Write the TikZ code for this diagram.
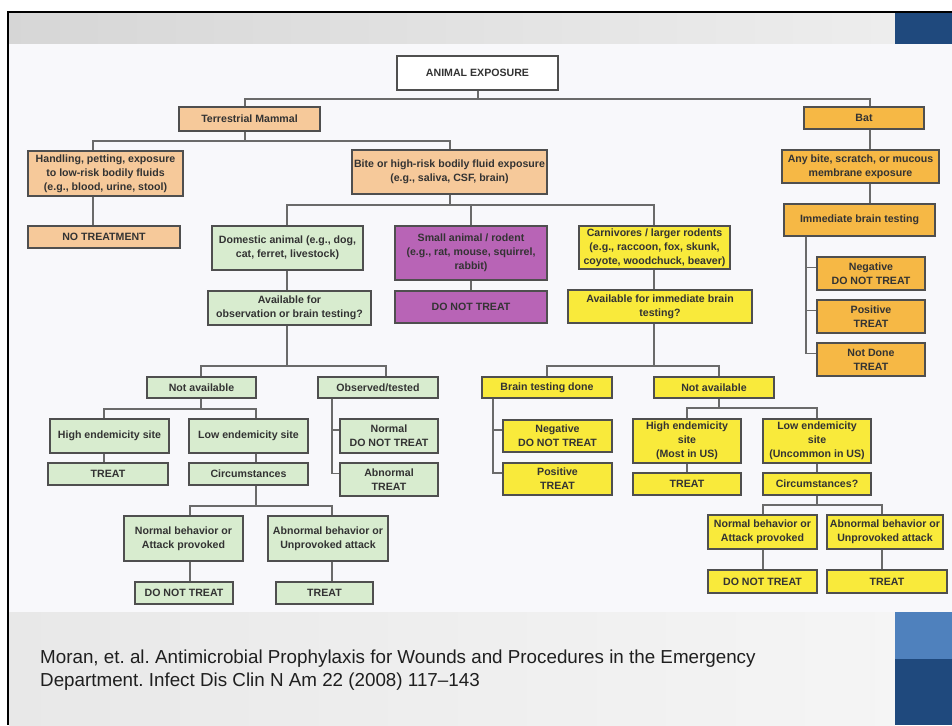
\documentclass[tikz,border=0pt]{standalone}
\usepackage{fontspec}
\setmainfont{Liberation Sans}
\frenchspacing
\begin{document}
\begin{tikzpicture}[x=1pt,y=-1pt]
\definecolor{cPeach}{HTML}{F6C99A}
\definecolor{cOrange}{HTML}{F6B845}
\definecolor{cGreen}{HTML}{D8ECCF}
\definecolor{cPurple}{HTML}{B864B6}
\definecolor{cYellow}{HTML}{F9EA3B}
\definecolor{boxLine}{HTML}{4F4F4F}
\definecolor{linkLine}{HTML}{6A6A6A}
\definecolor{txt}{HTML}{333333}
\definecolor{diagBg}{HTML}{F8F8FB}
\definecolor{blueDark}{HTML}{1F497D}
\definecolor{blueLight}{HTML}{4F81BD}
\tikzset{
  box/.style={draw=boxLine, line width=1.4pt, inner sep=0pt, align=center,
    text=txt, font=\bfseries\fontsize{10.6}{13.9}\selectfont},
  peach/.style={box, fill=cPeach},
  orange/.style={box, fill=cOrange},
  green/.style={box, fill=cGreen},
  purple/.style={box, fill=cPurple},
  yellow/.style={box, fill=cYellow},
  plain/.style={box, fill=white},
  conn/.style={draw=linkLine, line width=1.3pt},
  cite/.style={anchor=base west, inner sep=0pt, text=black!88,
    font=\fontsize{18.8}{23}\selectfont}
}
% box given by its left, top, right and bottom edges
\newcommand\flowbox[7]{\node[#1, minimum width={(#5)-(#3)}, minimum height={(#6)-(#4)}]
  (#2) at ({((#3)+(#5))/2},{((#4)+(#6))/2}) {#7};}

\useasboundingbox (0,0) rectangle (952,725);
% slide backdrop
\fill[white] (0,0) rectangle (952,725);
\shade[left color=black!16, right color=black!7] (9,13.5) rectangle (895,44);
\fill[diagBg] (9,44) rectangle (952,612);
\shade[left color=black!9, right color=black!4] (9,612) rectangle (895,725);
\fill[blueDark] (895,13.5) rectangle (952,44);
\fill[blueLight] (895,612) rectangle (952,659);
\fill[blueDark] (895,659) rectangle (952,725);
\fill[black] (6.5,10.8) rectangle (952,13.5);
\fill[black] (6.5,10.8) rectangle (9.2,725);

% top levels
\flowbox{plain}{root}{397}{56}{558}{90}{ANIMAL EXPOSURE}
\flowbox{peach}{terr}{179}{107}{320}{131}{Terrestrial Mammal}
\flowbox{orange}{bat}{804}{107}{924}{129}{Bat}
\flowbox{peach}{handl}{28}{151}{183}{196}{Handling, petting, exposure\\to low-risk bodily fluids\\(e.g., blood, urine, stool)}
\flowbox{peach}{bite}{352}{150}{547}{194}{Bite or high-risk bodily fluid exposure\\(e.g., saliva, CSF, brain)}
\flowbox{peach}{notreat}{28}{226}{180}{248}{NO TREATMENT}
\flowbox{green}{dom}{212}{226}{363}{270}{Domestic animal (e.g., dog,\\cat, ferret, livestock)}
\flowbox{purple}{small}{395}{226}{547}{280}{Small animal / rodent\\(e.g., rat, mouse, squirrel,\\rabbit)}
\flowbox{yellow}{carn}{579}{226}{730}{269}{Carnivores / larger rodents\\(e.g., raccoon, fox, skunk,\\coyote, woodchuck, beaver)}
\flowbox{purple}{purp}{395}{291}{547}{323}{DO NOT TREAT}
\flowbox{green}{av1}{208}{291}{371}{325}{Available for\\observation or brain testing?}
\flowbox{yellow}{av2}{568}{290}{752}{323}{Available for immediate brain\\testing?}

% bat column
\flowbox{orange}{anyb}{782}{150}{939}{183}{Any bite, scratch, or mucous\\membrane exposure}
\flowbox{orange}{imm}{784}{204}{935}{236}{Immediate brain testing}
\flowbox{orange}{negO}{817}{257}{925}{290}{Negative\\DO NOT TREAT}
\flowbox{orange}{posO}{817}{300}{925}{333}{Positive\\TREAT}
\flowbox{orange}{ndO}{817}{343}{925}{376}{Not Done\\TREAT}

% domestic animal branch
\flowbox{green}{naG}{147}{377}{256}{398}{Not available}
\flowbox{green}{obsG}{318}{377}{438}{398}{Observed/tested}
\flowbox{green}{hiG}{50}{419}{169}{453}{High endemicity site}
\flowbox{green}{loG}{189}{419}{308}{453}{Low endemicity site}
\flowbox{green}{normG}{340}{419}{438}{453}{Normal\\DO NOT TREAT}
\flowbox{green}{abnG}{340}{463}{438}{496}{Abnormal\\TREAT}
\flowbox{green}{trG}{48}{463}{168}{485}{TREAT}
\flowbox{green}{circG}{189}{463}{308}{485}{Circumstances}
\flowbox{green}{nbG}{124}{516}{243}{561}{Normal behavior or\\Attack provoked}
\flowbox{green}{abG}{268}{516}{388}{561}{Abnormal behavior or\\Unprovoked attack}
\flowbox{green}{dntG}{135}{582}{233}{604}{DO NOT TREAT}
\flowbox{green}{tG}{276}{582}{373}{604}{TREAT}

% carnivore branch
\flowbox{yellow}{btd}{482}{377}{612}{398}{Brain testing done}
\flowbox{yellow}{naY}{654}{377}{774}{398}{Not available}
\flowbox{yellow}{negY}{503}{420}{612}{452}{Negative\\DO NOT TREAT}
\flowbox{yellow}{posY}{503}{463}{612}{495}{Positive\\TREAT}
\flowbox{yellow}{hiY}{633}{419}{741}{463}{High endemicity\\site\\(Most in US)}
\flowbox{yellow}{loY}{763}{419}{871}{463}{Low endemicity\\site\\(Uncommon in US)}
\flowbox{yellow}{trY}{633}{473}{741}{495}{TREAT}
\flowbox{yellow}{circY}{763}{473}{871}{495}{Circumstances?}
\flowbox{yellow}{nbY}{708}{515}{817}{549}{Normal behavior or\\Attack provoked}
\flowbox{yellow}{abY}{827}{515}{943}{549}{Abnormal behavior or\\Unprovoked attack}
\flowbox{yellow}{dntY}{708}{570}{817}{593}{DO NOT TREAT}
\flowbox{yellow}{tY}{827}{570}{947}{593}{TREAT}

% x positions of the vertical links
\coordinate (vRoot) at (478,0);
\coordinate (vTerr) at (245,0);
\coordinate (vBat) at (870,0);
\coordinate (vHand) at (93,0);
\coordinate (vBite) at (450,0);
\coordinate (vDom) at (287,0);
\coordinate (vSmall) at (471,0);
\coordinate (vCarn) at (654,0);
\coordinate (vNaG) at (201,0);
\coordinate (vObs) at (386,0);
\coordinate (vHiG) at (104,0);
\coordinate (vLoG) at (256,0);
\coordinate (vNbG) at (190,0);
\coordinate (vAbG) at (332,0);
\coordinate (vBtd) at (547,0);
\coordinate (vNaY) at (719,0);
\coordinate (vHiY) at (687,0);
\coordinate (vLoY) at (817,0);
\coordinate (vNbY) at (763,0);
\coordinate (vAbY) at (882,0);
\coordinate (bO) at (806,0);
\coordinate (bG) at (332,0);
\coordinate (bY) at (493,0);
% heights of the horizontal links
\coordinate (jR) at (0,99);
\coordinate (jT) at (0,141);
\coordinate (jB) at (0,205);
\coordinate (jA1) at (0,366);
\coordinate (jA2) at (0,366);
\coordinate (jNG) at (0,409);
\coordinate (jNY) at (0,408);
\coordinate (jCG) at (0,506);
\coordinate (jCY) at (0,505);

% upper tree
\draw[conn] (vRoot |- root.south) -- (vRoot |- jR);
\draw[conn] (vTerr |- terr.north) |- (vBat |- jR) -- (vBat |- bat.north);
\draw[conn] (vTerr |- terr.south) -- (vTerr |- jT);
\draw[conn] (vHand |- handl.north) |- (vBite |- jT) -- (vBite |- bite.north);
\draw[conn] (vHand |- handl.south) -- (vHand |- notreat.north);
\draw[conn] (vBite |- bite.south) -- (vBite |- jB);
\draw[conn] (vDom |- dom.north) |- (vCarn |- jB) -- (vCarn |- carn.north);
\draw[conn] (vSmall |- jB) -- (vSmall |- small.north);
\draw[conn] (vSmall |- small.south) -- (vSmall |- purp.north);
\draw[conn] (vDom |- dom.south) -- (vDom |- av1.north);
\draw[conn] (vCarn |- carn.south) -- (vCarn |- av2.north);

% bat column
\draw[conn] (vBat |- bat.south) -- (vBat |- anyb.north);
\draw[conn] (vBat |- anyb.south) -- (vBat |- imm.north);
\coordinate (oA) at ([yshift=6pt]negO.west);
\coordinate (oB) at ([yshift=6pt]posO.west);
\coordinate (oC) at ([yshift=6pt]ndO.west);
\draw[conn] (bO |- imm.south) |- (oC);
\draw[conn] (bO |- oA) -- (oA);
\draw[conn] (bO |- oB) -- (oB);

% domestic animal branch
\draw[conn] (vDom |- av1.south) -- (vDom |- jA1);
\draw[conn] (vNaG |- naG.north) |- (vObs |- jA1) -- (vObs |- obsG.north);
\draw[conn] (vNaG |- naG.south) -- (vNaG |- jNG);
\draw[conn] (vHiG |- hiG.north) |- (vLoG |- jNG) -- (vLoG |- loG.north);
\draw[conn] (vHiG |- hiG.south) -- (vHiG |- trG.north);
\draw[conn] (vLoG |- loG.south) -- (vLoG |- circG.north);
\draw[conn] (vLoG |- circG.south) -- (vLoG |- jCG);
\draw[conn] (vNbG |- nbG.north) |- (vAbG |- jCG) -- (vAbG |- abG.north);
\draw[conn] (vNbG |- nbG.south) -- (vNbG |- dntG.north);
\draw[conn] (vAbG |- abG.south) -- (vAbG |- tG.north);
\coordinate (gA) at ([yshift=6pt]normG.west);
\coordinate (gB) at ([yshift=6pt]abnG.west);
\draw[conn] (bG |- obsG.south) |- (gB);
\draw[conn] (bG |- gA) -- (gA);

% carnivore branch
\draw[conn] (vCarn |- av2.south) -- (vCarn |- jA2);
\draw[conn] (vBtd |- btd.north) |- (vNaY |- jA2) -- (vNaY |- naY.north);
\draw[conn] (vNaY |- naY.south) -- (vNaY |- jNY);
\draw[conn] (vHiY |- hiY.north) |- (vLoY |- jNY) -- (vLoY |- loY.north);
\draw[conn] (vHiY |- hiY.south) -- (vHiY |- trY.north);
\draw[conn] (vLoY |- loY.south) -- (vLoY |- circY.north);
\draw[conn] (vLoY |- circY.south) -- (vLoY |- jCY);
\draw[conn] (vNbY |- nbY.north) |- (vAbY |- jCY) -- (vAbY |- abY.north);
\draw[conn] (vNbY |- nbY.south) -- (vNbY |- dntY.north);
\draw[conn] (vAbY |- abY.south) -- (vAbY |- tY.north);
\coordinate (yA) at ([yshift=6pt]negY.west);
\coordinate (yB) at ([yshift=6pt]posY.west);
\draw[conn] (bY |- btd.south) |- (yB);
\draw[conn] (bY |- yA) -- (yA);

% reference
\node[cite] (cite1) at (40,663) {Moran, et. al. Antimicrobial Prophylaxis for Wounds and Procedures in the Emergency};
\node[cite] (cite2) at (40,686) {Department. Infect Dis Clin N Am 22 (2008) 117–143};
\end{tikzpicture}
\end{document}
